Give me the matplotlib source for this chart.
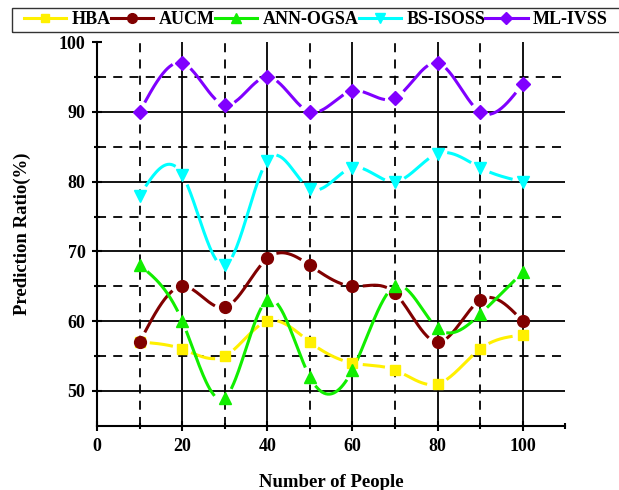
import numpy as np
import matplotlib
matplotlib.use("Agg")
import matplotlib.pyplot as plt
from matplotlib.lines import Line2D
from matplotlib.patches import Rectangle

# values
people = [10, 20, 30, 40, 50, 60, 70, 80, 90, 100]
hba = [57, 56, 55, 60, 57, 54, 53, 51, 56, 58]
aucm = [57, 65, 62, 69, 68, 65, 64, 57, 63, 60]
ann_ogsa = [68, 60, 49, 63, 52, 53, 65, 59, 61, 67]
bs_isoss = [78, 81, 68, 83, 79, 82, 80, 84, 82, 80]
ml_ivss = [90, 97, 91, 95, 90, 93, 92, 97, 90, 94]

names = ["HBA", "AUCM", "ANN-OGSA", "BS-ISOSS", "ML-IVSS"]
series = [hba, aucm, ann_ogsa, bs_isoss, ml_ivss]
colors = ["#FFF000", "#800000", "#11EE00", "#00FFFF", "#8000FF"]
markers = ["s", "o", "^", "v", "D"]
msizes = [7.5, 8.5, 8.5, 8.5, 7.5]

plt.rcParams["font.family"] = ["Liberation Serif", "DejaVu Serif"]
plt.rcParams["font.weight"] = "bold"


def natural_spline(x, y, n=400):
    # natural cubic spline through the points, only used to draw the smooth line
    x = np.asarray(x, float)
    y = np.asarray(y, float)
    k = len(x)
    h = np.diff(x)
    A = np.zeros((k, k))
    b = np.zeros(k)
    A[0, 0] = 1
    A[-1, -1] = 1
    for i in range(1, k - 1):
        A[i, i - 1] = h[i - 1]
        A[i, i] = 2 * (h[i - 1] + h[i])
        A[i, i + 1] = h[i]
        b[i] = 6 * ((y[i + 1] - y[i]) / h[i] - (y[i] - y[i - 1]) / h[i - 1])
    m = np.linalg.solve(A, b)
    xs = np.linspace(x[0], x[-1], n)
    idx = np.clip(np.searchsorted(x, xs) - 1, 0, k - 2)
    x0, x1 = x[idx], x[idx + 1]
    hh = x1 - x0
    t0 = x1 - xs
    t1 = xs - x0
    ys = (m[idx] * t0 ** 3 / (6 * hh) + m[idx + 1] * t1 ** 3 / (6 * hh)
          + (y[idx] / hh - m[idx] * hh / 6) * t0
          + (y[idx + 1] / hh - m[idx + 1] * hh / 6) * t1)
    return xs, ys


fig = plt.figure(figsize=(6.19, 4.90), dpi=100)
ax = fig.add_axes([0.157, 0.131, 0.756, 0.783])
ax.set_xlim(0, 110)
ax.set_ylim(45, 100)

ax.set_xticks([0, 20, 40, 60, 80, 100])
ax.set_xticks(np.arange(0, 111, 10), minor=True)
ax.set_yticks([50, 60, 70, 80, 90, 100])
ax.set_yticks([55, 65, 75, 85, 95], minor=True)
ax.tick_params(axis="both", which="both", direction="inout", width=1.5, labelsize=13)
ax.tick_params(axis="both", which="major", length=7)
ax.tick_params(axis="both", which="minor", length=5)
ax.tick_params(axis="x", which="major", pad=5)
ax.tick_params(axis="y", which="major", pad=5)
for lab in ax.get_xticklabels() + ax.get_yticklabels():
    lab.set_fontweight("bold")

ax.spines["top"].set_visible(False)
ax.spines["right"].set_visible(False)
ax.spines["left"].set_linewidth(1.5)
ax.spines["bottom"].set_linewidth(1.5)

# grid: solid on major, dashed on minor
for yv in [50, 60, 70, 80, 90]:
    ax.axhline(yv, color="black", lw=1.3, zorder=1)
for yv in [55, 65, 75, 85, 95]:
    ax.axhline(yv, color="black", lw=1.3, ls=(0, (5, 4)), zorder=1)
for xv in [20, 40, 60, 80, 100]:
    ax.axvline(xv, color="black", lw=1.3, zorder=1)
for xv in [10, 30, 50, 70, 90]:
    ax.axvline(xv, color="black", lw=1.3, ls=(0, (5, 4)), zorder=1)

trans = ax.transData
handles = []
for name, vals, c, mk, ms in zip(names, series, colors, markers, msizes):
    xs, ys = natural_spline(people, vals)
    # leave a small gap around each symbol like the original
    pts = trans.transform(np.column_stack([xs, ys]))
    mpts = trans.transform(np.column_stack([people, vals]))
    d = np.min(np.hypot(pts[:, None, 0] - mpts[None, :, 0],
                        pts[:, None, 1] - mpts[None, :, 1]), axis=1)
    ys_gap = np.where(d < 11, np.nan, ys)
    ax.plot(xs, ys_gap, color=c, lw=2.2, zorder=3)
    ax.plot(people, vals, ls="none", marker=mk, color=c, ms=ms, zorder=4)
    handles.append(Line2D([], [], color=c, lw=2.2, marker=mk, ms=ms - 1.5))

ax.set_xlabel("Number of People", fontsize=13.5, fontweight="bold", labelpad=14)
ax.set_ylabel("Prediction Ratio(%)", fontsize=13.5, fontweight="bold", labelpad=20)

# legend box runs off the right edge in the original
fig.patches.append(Rectangle((12 / 619, 1 - 32 / 490), 1.0, 24 / 490,
                             transform=fig.transFigure, fill=False,
                             edgecolor="#333333", lw=1.0))
leg = fig.legend(handles, names, loc="center left", bbox_to_anchor=(24 / 619, 1 - 20 / 490),
                 ncol=5, frameon=False, fontsize=13.0, handlelength=2.35,
                 handletextpad=0.3, columnspacing=0.0, borderpad=0, borderaxespad=0)
for t in leg.get_texts():
    t.set_fontweight("bold")

fig.savefig("out.png", dpi=100)
